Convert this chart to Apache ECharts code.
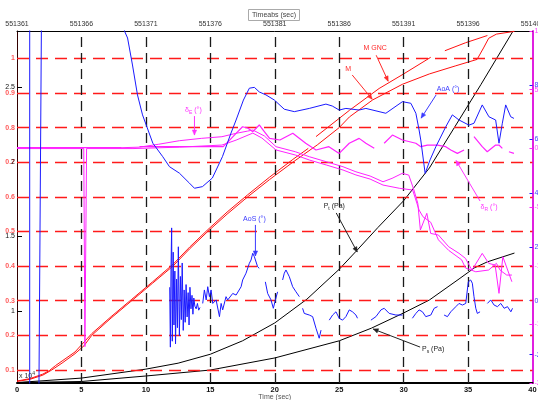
<!DOCTYPE html>
<html>
<head>
<meta charset="utf-8">
<script src="https://cdn.jsdelivr.net/npm/echarts@6/dist/echarts.min.js"></script>
<style>
  html, body { margin: 0; padding: 0; background: #fff; }
  #chart { width: 538px; height: 400px; }
</style>
</head>
<body>
<div id="chart"></div>
<script>
// ---- axes ----
const T_ABS0 = 551361;                       // absolute time at t = 0
const timeTicks  = [5, 10, 15, 20, 25, 30, 35];
const machTicks  = [0.1, 0.2, 0.3, 0.4, 0.5, 0.6, 0.7, 0.8, 0.9, 1.0];
const pressTicks = [1, 1.5, 2, 2.5];
const angleTicks = [-2, 0, 2, 4, 6, 8];
const deflTicks  = [-20, -15, -10, -5, 0, 5, 10];

// ---- Mach number ----
const machT = [0, 1, 2, 2.7, 3.5, 4.5, 5.2, 5.8, 7.3, 8.9, 10.5, 12.1, 13.4, 14.8, 16.3, 17.9, 19.6, 21.4, 23.3, 25.0, 25.8, 27.6, 29.9, 32.0, 34.0, 35.7, 36.2, 36.6, 37.2, 38.6];
const machV = [0.067, 0.073, 0.085, 0.10, 0.12, 0.147, 0.17, 0.20, 0.25, 0.30, 0.35, 0.40, 0.45, 0.50, 0.55, 0.60, 0.65, 0.70, 0.75, 0.80, 0.831, 0.88, 0.925, 0.955, 0.978, 0.997, 1.03, 1.058, 1.07, 1.078];

const machGncT = [0, 1, 2, 2.5, 3.0, 3.5, 4.5, 5.8, 7.3, 8.9, 10.5, 12.1, 13.4, 14.8, 16.3, 17.9, 19.6, 21.4, 22.6, 22.9, 23.2, 25.8, 28.1, 30.0, 32.1, 32.6, 33.2, 34.8, 36.5];
const machGncV = [0.068, 0.075, 0.088, 0.098, 0.113, 0.126, 0.152, 0.205, 0.254, 0.304, 0.354, 0.405, 0.455, 0.505, 0.556, 0.606, 0.657, 0.708, 0.74, null, 0.774, 0.85, 0.913, 0.955, 1.003, null, 1.022, 1.045, 1.066];

// ---- pressures (x 10^4 Pa) ----
const ptT = [0, 5, 10, 12.5, 15, 17.5, 20, 22.5, 25, 26.3, 28, 30, 32, 34, 36, 38.5];
const ptV = [0.52, 0.55, 0.61, 0.65, 0.71, 0.80, 0.92, 1.08, 1.28, 1.40, 1.56, 1.74, 1.96, 2.24, 2.52, 2.88];
const psT = [0, 5, 10, 15, 20, 25, 27.5, 30, 32, 34.3, 35.5, 36.5, 38.6];
const psV = [0.52, 0.527, 0.564, 0.604, 0.685, 0.80, 0.885, 0.987, 1.074, 1.215, 1.29, 1.33, 1.389];

// ---- angle of attack (deg) ----
const aoaT = [0.98, 0.99, 8.0, 8.34, 8.58, 8.96, 9.35, 9.74, 10.03, 10.54, 11.31, 11.83, 12.6, 13.38, 13.77, 14.39, 15.16, 15.94, 16.61, 17.0, 17.57, 18.03, 18.42, 18.8, 19.32, 19.97, 20.74, 21.52, 22.68, 23.97, 24.46, 25.0, 25.52, 26.55, 27.07, 28.62, 29.91, 30.56, 30.95, 31.2, 31.33, 31.67, 32.05, 32.5, 33.27, 33.78, 34.3, 35.07, 35.46, 36.1, 36.62, 37.14, 37.4, 37.66, 37.92, 38.31, 38.56];
const aoaV = [-40, 40, 14, 10.0, 9.74, 8.74, 7.63, 6.89, 6.51, 5.84, 5.34, 4.97, 4.73, 4.36, 4.17, 4.23, 4.55, 5.34, 6.22, 6.70, 7.44, 7.88, 7.91, 7.74, 7.63, 7.44, 7.10, 7.01, 7.13, 7.29, 7.22, 7.07, 7.13, 7.07, 7.13, 6.95, 7.38, 7.32, 6.95, 6.33, 5.96, 4.72, 5.22, 5.71, 6.45, 6.89, 6.70, 6.51, 6.58, 7.26, 6.82, 6.70, 5.84, 6.58, 7.26, 6.82, 6.76];

// ---- angle of sideslip (deg) ----
const aosT = [1.69, 1.90, 1.95,
  11.85, 11.9, 11.95, 12.0, 12.05, 12.12, 12.18, 12.25, 12.3, 12.38, 12.45, 12.52, 12.6, 12.68, 12.75, 12.82, 12.9, 12.97, 13.05, 13.12, 13.2, 13.28, 13.35, 13.42, 13.5, 13.58, 13.65, 13.72, 13.8, 13.9, 14.0, 14.1, 14.2, 14.3,
  14.41, 14.54, 14.68, 14.8, 14.93, 15.06, 15.19, 15.45, 15.71, 15.84, 15.96, 16.22, 16.35, 16.48, 16.74, 17.0, 17.39, 17.51, 17.77, 18.03, 18.16, 18.29, 18.42, 18.55, 18.67, 18.8, 19.0,
  19.27, 19.45, 19.71, 19.89, 20.05, 20.22, 20.4,
  20.61, 20.74, 20.87, 21.13, 21.39, 21.65, 21.91, 22.0,
  22.16, 22.29, 22.68, 22.94, 23.2, 23.45, 23.59, 23.9,
  24.23, 24.49, 24.75, 25.0, 25.26, 25.52, 25.78, 26.03, 26.3, 26.42, 27.0,
  27.46, 27.85, 28.24, 28.49, 28.88, 29.4, 29.91, 30.3,
  30.68, 30.95, 31.2, 31.46, 31.72, 32.11, 32.37, 32.63, 32.9,
  33.14, 33.4, 33.66, 34.05, 34.3, 34.56, 34.82, 35.02, 35.2, 35.33, 35.46, 35.6, 35.72, 35.93, 36.2,
  36.5, 36.76, 37.02, 37.28, 37.54, 37.8, 38.06, 38.32, 38.45];
const aosV = [-4.1, 10.64, null,
  0.5, -1.72, 1.2, 2.7, -1.5, 1.8, -0.9, 1.1, -1.6, 0.8, -1.0, 2.0, -1.3, 0.9, -0.7, 1.4, -1.1, 0.4, -0.8, 0.6, -0.6, 0.3, -0.9, 0.5, -0.3, 0.2, -0.5, 0.1, -0.2, -0.3, -0.1, -0.35, -0.25, null,
  -0.10, 0.40, 0.03, 0.52, 0.15, 0.40, -0.10, 0.03, -0.59, -0.10, -0.34, 0.15, 0.03, 0.03, 0.27, 0.21, 0.52, 0.77, 1.02, 1.39, 1.51, 1.76, 1.63, 1.69, 1.26, 1.20, null,
  0.70, 0.27, 0.03, -0.28, 0.03, 0.33, null,
  0.77, 1.02, 1.14, 0.89, 0.52, 0.33, 0.15, null,
  -0.28, -0.47, -0.53, -0.59, -1.02, -1.39, -1.09, null,
  -0.72, -0.53, -0.41, -0.65, -0.72, -0.59, -0.34, -0.41, -0.53, -0.65, null,
  -0.72, -0.59, -0.34, -0.28, -0.47, -0.53, -0.53, null,
  -0.65, -0.47, -0.34, -0.41, -0.59, -0.53, -0.28, -0.22, null,
  -0.53, -0.59, -0.41, -0.22, -0.10, -0.16, -0.10, 0.70, 0.77, 0.65, 0.15, -0.28, -0.47, -0.41, null,
  -0.10, 0.03, -0.16, -0.22, -0.10, -0.28, -0.22, -0.41, -0.28];

// ---- control surface deflections (deg) ----
const deltaE1T = [0, 8.0, 9.5, 11.0, 12.6, 14.3, 15.9, 17.0, 17.9, 18.3, 19.2, 20.1, 21.6, 22.7, 24.0, 25.3, 26.3, 27.4, 28.4, 29.1, 29.9, 30.4, 30.8, 31.1, 31.3, 31.8, 32.1, 32.7, 33.5, 34.3, 34.8, 35.3, 36.1, 36.6, 37.1, 37.4, 37.7, 38.4];
const deltaE1V = [0.05, 0.05, 0.1, 0.35, 0.65, 0.85, 0.99, 1.28, 1.47, 1.56, 1.05, 0.14, -0.29, -0.72, -1.14, -1.57, -2.0, -2.36, -2.85, -2.56, -2.13, -2.28, -3.55, -4.69, -6.96, -5.54, -7.25, -7.39, -8.39, -8.95, -9.38, -10.38, -8.95, -9.8, -9.95, -12.36, -9.24, -11.37];
const deltaE2T = [0, 5.18, 5.27, 5.4, 9.0, 12.6, 15.9, 17.0, 18.3, 19.0, 20.1, 21.6, 22.7, 24.0, 25.3, 26.3, 27.4, 28.4, 29.7, 30.7, 31.2, 31.5, 32.1, 32.7, 33.5, 34.5, 34.8, 35.6, 36.6, 37.2, 37.5, 38.0, 38.4];
const deltaE2V = [-0.02, -0.02, -16.9, -0.02, -0.02, 0.1, 0.28, 0.7, 1.3, 0.88, -0.14, -0.57, -1.0, -1.42, -1.85, -2.27, -2.62, -3.13, -3.41, -3.55, -5.26, -5.83, -6.3, -7.8, -8.7, -9.5, -10.2, -10.52, -10.37, -9.8, -10.4, -10.8, -10.8];
const deltaRT = [0, 8.1, 8.15, 9.5, 16.0, 16.5, 17.0, 17.5, 17.9, 18.3, 18.8, 19.1, 19.6, 20.4, 21.4, 22.4, 23.2, 24.2, 25.0, 25.78, 26.55, 27.07, 27.72, 28.1, 28.49, 29.13, 29.91, 30.95, 31.33, 31.85, 32.62, 33.27, 33.66, 34.17, 34.69, 35.0, 35.46, 36.1, 36.49, 37.14, 37.4, 37.66, 37.9, 38.17, 38.56];
const deltaRV = [0.07, 0.07, null, 0.14, 0.14, 0.7, 1.28, 1.84, 1.73, 1.42, 1.99, 1.56, 0.85, 0.71, 1.28, 0.43, -0.14, 0.14, -0.43, 0.43, 0.85, 0.43, 0.0, null, 0.43, 1.13, 0.71, 0.43, 0.14, 0.28, 0.28, 0.14, -0.14, -0.43, -0.14, null, 0.99, 0.14, -0.29, 0.28, 0.28, 0.0, null, -0.29, -0.43];

// ---- colours / fonts ----
const FONT = '"Liberation Sans", Arial, Helvetica, sans-serif';
const RED = '#ff1010', BLUE = '#1a1aff', MAGENTA = '#ff22ff', BLACK = '#000';

// y axis indices
const AX_MACH = 0, AX_PRESS = 1, AX_ANGLE = 2, AX_DEFL = 3;

function zip(ts, vs) { return ts.map((t, i) => [t, vs[i]]); }
function curve(name, ts, vs, yAxisIndex, color, width, z) {
  return {
    type: 'line', name, xAxisIndex: 0, yAxisIndex, data: zip(ts, vs),
    showSymbol: false, symbol: 'none', clip: true, silent: true, z,
    lineStyle: { color, width }, connectNulls: false
  };
}

const chart = echarts.init(document.getElementById('chart'), null, { renderer: 'canvas' });

const option = {
  animation: false,
  backgroundColor: '#fff',
  textStyle: { fontFamily: FONT },
  title: {
    text: 'Timeabs (sec)', left: 248, top: 9, padding: [2, 4],
    borderColor: '#aaa', borderWidth: 1, backgroundColor: '#fff',
    textStyle: { fontSize: 7, fontWeight: 'normal', color: '#444', fontFamily: FONT, lineHeight: 8 }
  },
  grid: { left: 17, right: 5.5, top: 31, bottom: 17, containLabel: false, outerBoundsMode: 'none' },
  xAxis: [
    {
      type: 'value', position: 'bottom', min: 0, max: 40, interval: 5,
      name: 'Time (sec)', nameLocation: 'middle', nameGap: 11, nameMoveOverlap: false,
      nameTextStyle: { fontSize: 7, color: '#555', fontFamily: FONT },
      axisLine: { show: true, onZero: false, lineStyle: { color: BLACK, width: 2 } },
      axisTick: { show: false },
      axisLabel: { fontSize: 7.5, fontWeight: 'bold', color: '#111', margin: 3, fontFamily: FONT },
      splitLine: { show: false }
    },
    {
      type: 'value', position: 'top', min: 0, max: 40, interval: 5,
      axisLine: { show: true, onZero: false, lineStyle: { color: BLACK, width: 1 } },
      axisTick: { show: false },
      axisLabel: { fontSize: 7, color: '#333', margin: 3, fontFamily: FONT,
        formatter: v => String(T_ABS0 + v) },
      splitLine: { show: false }
    }
  ],
  yAxis: [
    { // Mach
      type: 'value', position: 'left', min: 0.0624, max: 1.079,
      axisLine: { show: false, onZero: false },
      axisTick: { show: true, inside: true, length: 3, customValues: machTicks, lineStyle: { color: RED } },
      axisLabel: { customValues: machTicks, fontSize: 7, fontWeight: 'bold', color: '#ff5a5a', margin: 2, fontFamily: FONT,
        formatter: v => (Math.abs(v - 1) < 1e-9 ? '1' : v.toFixed(1)) },
      splitLine: { show: false }
    },
    { // pressure, x 10^4 Pa
      type: 'value', position: 'left', min: 0.517, max: 2.879,
      axisLine: { show: true, onZero: false, lineStyle: { color: '#300', width: 1 } },
      axisTick: { show: true, inside: true, length: 5, customValues: pressTicks, lineStyle: { color: BLACK } },
      axisLabel: { customValues: pressTicks, fontSize: 7, color: '#111', margin: 2, fontFamily: FONT,
        formatter: v => String(v) },
      splitLine: { show: false }
    },
    { // AoA / AoS
      type: 'value', position: 'right', min: -3.05, max: 10,
      axisLine: { show: false, onZero: false },
      axisTick: { show: true, inside: true, length: 3, customValues: angleTicks, lineStyle: { color: BLUE } },
      axisLabel: { customValues: angleTicks, fontSize: 7, color: '#4040ff', margin: 2, fontFamily: FONT },
      splitLine: { show: false }
    },
    { // deflections
      type: 'value', position: 'right', min: -20, max: 10, interval: 5,
      axisLine: { show: true, onZero: false, lineStyle: { color: '#e020e0', width: 2 } },
      axisTick: { show: true, inside: true, length: 3, lineStyle: { color: MAGENTA } },
      axisLabel: { fontSize: 7, color: '#ff44ff', margin: 2, fontFamily: FONT },
      splitLine: { show: false }
    }
  ],
  series: [
    { // reference grid: Mach levels and time marks
      type: 'line', xAxisIndex: 0, yAxisIndex: AX_MACH, data: [], silent: true, z: 1,
      markLine: {
        silent: true, symbol: ['none', 'none'], label: { show: false }, animation: false,
        data: machTicks.map(v => ({ yAxis: v, lineStyle: { color: '#ff1a1a', type: [12, 7], width: 1.4 } }))
          .concat(timeTicks.map(t => ({ xAxis: t, lineStyle: { color: '#1a1a1a', type: [10, 6], width: 1.3 } })))
      }
    },
    curve('Pt', ptT, ptV, AX_PRESS, BLACK, 1, 3),
    curve('Ps', psT, psV, AX_PRESS, BLACK, 1, 3),
    curve('M', machT, machV, AX_MACH, RED, 1, 4),
    curve('M GNC', machGncT, machGncV, AX_MACH, RED, 1, 4),
    curve('deltaR', deltaRT, deltaRV, AX_DEFL, MAGENTA, 1.2, 5),
    curve('deltaE1', deltaE1T, deltaE1V, AX_DEFL, MAGENTA, 1, 5),
    curve('deltaE2', deltaE2T, deltaE2V, AX_DEFL, MAGENTA, 1, 5),
    curve('AoS', aosT, aosV, AX_ANGLE, BLUE, 1, 6),
    curve('AoA', aoaT, aoaV, AX_ANGLE, BLUE, 1, 6)
  ]
};
chart.setOption(option);

// ---- text labels with pointer arrows (placed in data units) ----
const labels = [
  { rich: '{a|M GNC}', color: '#ff2a2a', axis: AX_MACH, at: [27.79, 1.031], from: [27.87, 1.009], to: [28.8, 0.934] },
  { rich: '{a|M}', color: '#ff2a2a', axis: AX_MACH, at: [25.7, 0.968], from: [26.01, 0.952], to: [27.56, 0.882] },
  { rich: '{a|AoA (°)}', color: '#3a3aff', axis: AX_ANGLE, at: [33.45, 7.85], from: [32.52, 7.63], to: [31.36, 6.77] },
  { rich: '{a|AoS (°)}', color: '#3a3aff', axis: AX_ANGLE, at: [18.42, 3.03], from: [18.5, 2.81], to: [18.5, 1.66] },
  { rich: '{a|δ}{s|E}{a| (°)}', color: '#ff33ff', axis: AX_DEFL, at: [13.69, 3.27], from: [13.77, 2.75], to: [13.77, 1.13] },
  { rich: '{a|δ}{s|R}{a| (°)}', color: '#ff33ff', axis: AX_DEFL, at: [36.63, -5.0], from: [35.93, -4.49], to: [34.07, -1.04] },
  { rich: '{a|P}{s|t}{a| (Pa)}', color: '#222', axis: AX_PRESS, at: [24.62, 1.705], from: [24.77, 1.658], to: [26.4, 1.396] },
  { rich: '{a|P}{s|s}{a| (Pa)}', color: '#222', axis: AX_PRESS, at: [32.29, 0.742], from: [31.28, 0.758], to: [27.64, 0.879] }
];

function px(axis, p) { return chart.convertToPixel({ xAxisIndex: 0, yAxisIndex: axis }, p); }

const graphics = [];
labels.forEach(l => {
  const c = px(l.axis, l.at), a = px(l.axis, l.from), b = px(l.axis, l.to);
  graphics.push({
    type: 'text', x: c[0], y: c[1], z: 100, silent: true,
    style: {
      text: l.rich, align: 'center', verticalAlign: 'middle', fill: l.color,
      rich: {
        a: { fontSize: 7, fontFamily: FONT, fill: l.color, lineHeight: 10 },
        s: { fontSize: 5, fontFamily: FONT, fill: l.color, lineHeight: 6, verticalAlign: 'bottom' }
      }
    }
  });
  graphics.push({
    type: 'line', z: 100, silent: true,
    shape: { x1: a[0], y1: a[1], x2: b[0], y2: b[1] },
    style: { stroke: l.color, lineWidth: 1 }
  });
  // arrow head
  const ang = Math.atan2(b[1] - a[1], b[0] - a[0]);
  const L = 5, W = 2.2;
  const bx = b[0] - L * Math.cos(ang), by = b[1] - L * Math.sin(ang);
  graphics.push({
    type: 'polygon', z: 100, silent: true,
    shape: { points: [[b[0], b[1]],
      [bx + W * Math.sin(ang), by - W * Math.cos(ang)],
      [bx - W * Math.sin(ang), by + W * Math.cos(ang)]] },
    style: { fill: l.color, stroke: l.color, lineWidth: 0.5 }
  });
});

// exponent of the pressure axis
const expo = px(AX_PRESS, [0.15, 0.565]);
graphics.push({
  type: 'text', x: expo[0], y: expo[1], z: 100, silent: true,
  style: {
    text: '{a|x 10}{p|4}', align: 'left', verticalAlign: 'middle',
    rich: {
      a: { fontSize: 7, fontFamily: FONT, fill: '#333', lineHeight: 10 },
      p: { fontSize: 5, fontFamily: FONT, fill: '#333', lineHeight: 6, verticalAlign: 'top' }
    }
  }
});

chart.setOption({ graphic: { elements: graphics } });
</script>
</body>
</html>
